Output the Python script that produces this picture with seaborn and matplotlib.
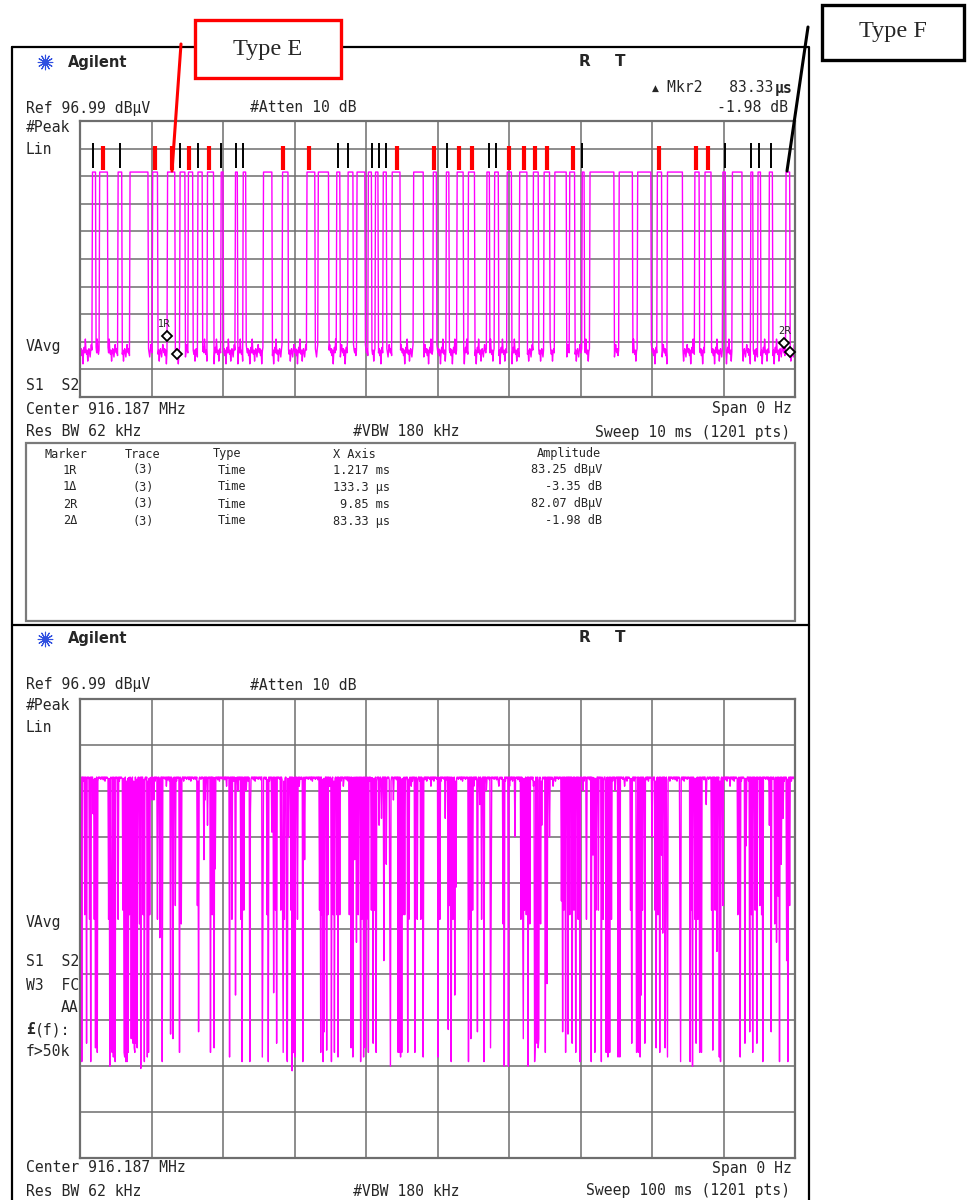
import numpy as np
import pandas as pd
import matplotlib
matplotlib.use("Agg")
import matplotlib.pyplot as plt
import seaborn as sns
from matplotlib.patches import Rectangle

# ---------------- data ----------------
# top sweep (10 ms, 1201 pts): pulse start / end times in ms, levels in graticule divisions
pulse_start = [0.17, 0.27, 0.53, 0.70, 1.01, 1.22, 1.40, 1.51, 1.65, 1.78, 1.97, 2.17, 2.28, 2.56, 2.83,
               3.17, 3.33, 3.59, 3.75, 3.87, 4.03, 4.13, 4.24, 4.36, 4.66, 4.94, 5.12, 5.27, 5.43, 5.69,
               5.80, 5.97, 6.15, 6.34, 6.49, 6.64, 6.85, 7.02, 7.13, 7.54, 7.80, 8.07, 8.21, 8.60, 8.74,
               8.99, 9.12, 9.38, 9.48, 9.64, 9.87]
pulse_end = [0.22, 0.39, 0.59, 0.95, 1.09, 1.33, 1.47, 1.58, 1.71, 1.87, 2.00, 2.20, 2.32, 2.69, 2.91,
             3.29, 3.48, 3.64, 3.82, 3.99, 4.08, 4.17, 4.29, 4.48, 4.80, 4.99, 5.16, 5.36, 5.52, 5.73,
             5.85, 6.04, 6.25, 6.41, 6.57, 6.80, 6.92, 7.05, 7.47, 7.73, 7.99, 8.14, 8.43, 8.66, 8.83,
             9.03, 9.26, 9.41, 9.52, 9.69, 9.93]
high_level_top = 8.15
low_ripple_top = [1.7, 1.6, 1.75, 1.5, 1.7, 1.2, 1.65, 1.8, 1.6, 2.1, 1.7, 1.55, 1.7, 1.3, 1.65, 1.75,
                  1.6, 1.45, 1.7, 1.9]

# red (type E) and black marks above the pulses, ms
red_marks = [0.32, 1.05, 1.28, 1.52, 1.80, 2.84, 3.20, 4.43, 4.95, 5.30, 5.48, 6.00, 6.21, 6.36,
             6.53, 6.89, 8.10, 8.62, 8.78]
black_marks = [0.18, 0.56, 1.40, 1.65, 1.97, 2.18, 2.28, 3.61, 3.75, 4.08, 4.18, 4.28, 5.13, 5.72,
               5.82, 7.02, 9.02, 9.39, 9.50, 9.66]

# markers on the top sweep: (label, time ms, level div)
mk_labels = ["1R", "1Δ", "2R", "2Δ"]
mk_time = [1.217, 1.350, 9.85, 9.933]
mk_level = [2.2, 1.56, 1.96, 1.63]

# bottom sweep (100 ms, 1201 pts): dropout times (ms) and depth (div)
dip_time = [0.09, 0.28, 0.65, 0.89, 1.35, 1.49, 1.82, 1.96, 2.14, 2.42, 4.0, 4.15, 4.38, 4.52, 4.66,
            4.85, 4.94, 5.31, 6.01, 6.15, 6.29, 6.43, 6.57, 6.71, 6.95, 7.18, 7.41, 7.55, 7.69, 7.83,
            8.02, 8.34, 8.48, 8.81, 9.04, 9.42, 9.6, 9.79, 10.1, 10.3, 10.82, 11.14, 11.47, 12.07,
            12.68, 13.01, 13.33, 13.94, 14.17, 16.41, 16.6, 17.34, 17.53, 17.81, 18.28, 18.46, 18.74,
            18.93, 20.47, 20.93, 21.26, 21.72, 22.1, 22.47, 22.66, 22.94, 23.26, 23.73, 23.87,
            25.46, 25.6, 26.2, 26.3, 26.8, 27.1, 27.3, 27.5, 28.1, 28.3, 28.4, 28.6, 28.9, 29.0, 29.2,
            29.5, 29.7, 29.8, 29.9, 30.1, 30.4, 30.7, 31.2, 31.4, 33.5, 33.7, 33.85, 34.0, 34.2, 34.5,
            34.7, 34.9, 35.2, 35.4, 35.6, 35.9, 36.1, 36.3, 36.8, 37.7, 37.95, 38.2, 38.4, 38.65, 38.9,
            39.1, 39.26, 39.45, 39.7, 39.9, 40.05, 40.3, 40.75, 41.0, 41.2, 41.45, 41.8, 42.15, 42.5,
            42.85, 43.3, 43.45, 43.8, 44.5, 44.7, 44.85, 45.0, 45.2, 45.4, 45.8, 46.0, 46.35, 46.8,
            47.2, 47.7, 48.0, 49.1, 50.1,
            50.3, 51.1, 51.5, 51.7, 51.9, 52.2, 52.4, 52.6, 54.3, 54.5, 54.7, 54.9, 55.1, 55.6, 55.9,
            56.2, 56.5, 56.8, 57.4, 57.5, 58.6, 59.2, 59.3, 59.9, 60.1, 60.8, 61.7, 61.9, 62.0, 62.2,
            62.4, 62.7, 62.9, 63.4, 63.6, 63.7, 63.9, 64.1, 64.2, 64.4, 64.6, 65.1, 65.3, 65.7, 66.2,
            67.3, 67.5, 67.7, 67.9, 68.25, 68.5, 68.8, 69.1, 69.3, 69.65, 69.9, 70.35, 70.8, 71.5,
            71.75, 71.98, 72.2, 72.5, 72.9, 73.15, 73.6, 73.85, 74.1, 74.3, 74.8, 75.25,
            75.5, 76.2, 77.0, 77.2, 77.8, 77.9, 78.1, 78.3, 78.5, 78.7, 78.97, 80.04, 80.4, 80.6, 80.8,
            81.1, 81.3, 81.5, 81.8, 82.1, 82.2, 83.9, 84.0, 85.3, 85.5, 85.7, 86.0, 86.2, 86.4, 86.7,
            86.9, 87.6, 88.3, 88.5, 88.8, 89.1, 89.4, 89.6, 89.9, 90.9, 92.0, 92.3, 93.0, 93.2, 93.7,
            93.9, 94.1, 94.4, 94.7, 95.1, 95.3, 95.5, 96.45, 96.7, 97.15, 97.4, 97.7, 97.85, 98.1,
            98.3, 98.8, 99.0, 99.25]
dip_level = [2.2, 2.1, 5.3, 2.5, 5.2, 2.1, 7.5, 5.2, 2.4, 2.3, 5.2, 2.0, 2.4, 2.3, 2.2,
             2.3, 2.1, 5.2, 5.4, 2.3, 2.2, 2.1, 2.1, 2.3, 5.3, 2.6, 2.5, 2.4, 2.3, 2.5,
             2.4, 5.1, 1.95, 5.3, 2.1, 2.2, 2.3, 5.3, 7.8, 7.8, 5.2, 4.8, 2.1, 8.1,
             2.7, 2.6, 5.5, 2.3, 5.1, 5.5, 2.75, 6.5, 7.8, 7.25, 2.3, 5.3, 2.4,
             6.3, 8.1, 2.2, 5.2, 3.55, 8.0, 5.2, 2.1, 5.4, 8.0, 2.1, 7.5,
             2.2, 5.2, 5.3, 2.1, 7.1, 3.6, 5.4, 2.5, 5.4, 5.3, 2.3, 5.2, 2.2, 2.1, 7.0,
             5.4, 1.9, 2.3, 2.3, 2.2, 5.2, 8.1, 2.1, 6.5, 5.4, 2.3, 5.3, 2.1, 2.75, 2.35,
             5.3, 8.1, 2.1, 5.3, 2.3, 5.3, 2.2, 5.3, 8.1, 5.3, 2.4, 2.2, 6.5, 4.7, 5.3,
             8.1, 2.1, 5.2, 2.2, 2.4, 5.2, 2.3, 5.4, 2.5, 5.4, 2.3, 7.25, 7.4, 4.3,
             6.4, 5.1, 2.0, 7.8, 2.3, 2.3, 2.2, 2.3, 5.3, 5.3, 2.3, 5.2, 8.1, 2.3,
             5.2, 5.2, 2.2, 8.1, 2.2,
             5.2, 7.4, 2.8, 5.5, 2.1, 5.2, 3.55, 5.9, 2.1, 5.2, 2.6, 5.4, 8.1, 2.75, 7.7,
             5.2, 2.1, 8.0, 2.4, 5.4, 8.1, 5.1, 2.0, 2.0, 8.1, 7.0, 5.2, 5.3, 2.6, 5.4,
             5.3, 2.0, 5.1, 8.1, 2.1, 2.5, 2.5, 2.4, 2.6, 5.1, 7.25, 2.3, 3.8, 7.0, 8.1,
             5.6, 2.75, 5.4, 2.3, 2.7, 5.3, 2.5, 5.4, 2.3, 5.2, 2.1, 8.0, 5.2, 2.1,
             6.6, 2.3, 5.4, 5.4, 2.1, 5.2, 2.3, 2.2, 2.3, 5.2, 8.0, 2.2,
             2.2, 8.1, 5.4, 2.5, 2.3, 5.4, 2.3, 2.2, 3.55, 5.4, 2.5, 7.0, 5.4, 2.4, 5.3,
             2.3, 6.6, 4.9, 2.4, 5.2, 2.2, 5.2, 2.1, 2.1, 5.4, 2.0, 5.2, 2.5, 5.2, 2.3,
             2.3, 7.7, 5.4, 2.35, 5.4, 4.5, 2.2, 2.1, 5.5, 8.1, 5.3, 2.2, 2.5, 6.8, 2.75,
             5.3, 2.3, 5.4, 2.5, 5.5, 5.3, 2.1, 7.25, 2.75, 5.1, 4.7, 5.7, 2.1, 6.4,
             7.4, 4.3, 2.1, 5.5]
high_ripple_bottom = [8.30, 8.27, 8.30, 8.24, 8.30, 8.30, 8.21, 8.30, 8.27, 8.30, 8.29, 8.25]

table_marker = ["1R", "1Δ", "2R", "2Δ"]
table_trace = ["(3)", "(3)", "(3)", "(3)"]
table_type = ["Time", "Time", "Time", "Time"]
table_x = ["1.217 ms", "133.3 µs", "9.85 ms", "83.33 µs"]
table_amp = ["83.25 dBµV", "-3.35 dB", "82.07 dBµV", "-1.98 dB"]

# ---------------- build traces ----------------
n_pts = 1201
t_top = np.linspace(0, 10, n_pts)
y_top = np.array([low_ripple_top[i % len(low_ripple_top)] for i in range(n_pts)])
for s, e in zip(pulse_start, pulse_end):
    y_top[(t_top >= s) & (t_top <= e)] = high_level_top
top_df = pd.DataFrame({"t": t_top, "v": y_top})

t_bot = np.linspace(0, 100, n_pts)
y_bot = np.array([high_ripple_bottom[i % len(high_ripple_bottom)] for i in range(n_pts)])
for tt, lv in zip(dip_time, dip_level):
    y_bot[int(round(tt * 12))] = lv
bot_df = pd.DataFrame({"t": t_bot, "v": y_bot})

# ---------------- figure ----------------
sns.set_style("white")
plt.rcParams['font.family'] = ['DejaVu Sans Mono', 'DejaVu Sans']
W, H = 969, 1200
fig = plt.figure(figsize=(W / 100, H / 100), dpi=100)
fig.patch.set_facecolor("white")

GRID = "#6e6e6e"
MAG = "#ff00ff"


def graticule(x0, y0, x1, y1, xmax):
    ax = fig.add_axes([x0 / W, 1 - y1 / H, (x1 - x0) / W, (y1 - y0) / H])
    ax.set_facecolor("none")
    ax.set_xlim(0, xmax)
    ax.set_ylim(0, 10)
    ax.set_xticks(np.linspace(0, xmax, 11))
    ax.set_yticks(range(11))
    ax.grid(True, color=GRID, lw=1.1)
    ax.tick_params(length=0, labelbottom=False, labelleft=False)
    for sp in ax.spines.values():
        sp.set_color(GRID)
        sp.set_linewidth(1.6)
    return ax


ax_top = graticule(80, 121, 795, 397, 10)
sns.lineplot(data=top_df, x="t", y="v", ax=ax_top, color=MAG, lw=1.0, estimator=None, sort=False)
ax_top.set_xlabel(""); ax_top.set_ylabel("")
ax_top.vlines(red_marks, 8.22, 9.08, colors="#ff0000", lw=3.0, zorder=4)
ax_top.vlines(black_marks, 8.28, 9.2, colors="black", lw=1.4, zorder=4)
for lab, mt, ml in zip(mk_labels, mk_time, mk_level):
    ax_top.plot(mt, ml, marker="D", ms=5.5, mfc="white", mec="black", mew=1.3, zorder=5, clip_on=False)
ax_top.text(1.18, 2.65, "1R", fontsize=7, ha="center", va="center", family="DejaVu Sans")
ax_top.text(9.86, 2.4, "2R", fontsize=7, ha="center", va="center", family="DejaVu Sans")

ax_bot = graticule(80, 699, 795, 1158, 100)
sns.lineplot(data=bot_df, x="t", y="v", ax=ax_bot, color=MAG, lw=1.0, estimator=None, sort=False)
ax_bot.set_xlabel(""); ax_bot.set_ylabel("")

# ---------------- overlay (frames + texts) ----------------
ov = fig.add_axes([0, 0, 1, 1])
ov.set_xlim(0, W)
ov.set_ylim(H, 0)
ov.axis("off")
ov.set_zorder(10)
ov.patch.set_alpha(0)

# frames
ov.plot([12, 809, 809], [47, 47, 1200], color="black", lw=1.6)
ov.plot([12, 12], [47, 1200], color="black", lw=1.6)
ov.plot([12, 809], [625, 625], color="black", lw=1.6)
ov.add_patch(Rectangle((26, 443), 769, 178, fill=False, ec="#7a7a7a", lw=1.6))

# annotation boxes
ov.add_patch(Rectangle((195, 20), 146, 58, fc="white", ec="#ff0000", lw=2.4, zorder=5))
ov.text(268, 49, "Type E", family="Liberation Serif", fontsize=17.5, ha="center", va="center", zorder=6)
ov.add_patch(Rectangle((822, 5), 142, 55, fc="white", ec="black", lw=2.4, zorder=5))
ov.text(893, 32, "Type F", family="Liberation Serif", fontsize=17.5, ha="center", va="center", zorder=6)
ov.plot([181, 172], [44, 171], color="#ff0000", lw=2.2)
ov.plot([808, 787], [27, 171], color="black", lw=2.2)

FS = 10.6


def txt(x, y, s, ha="left", fs=FS, **kw):
    ov.text(x, y, s, ha=ha, va="center", fontsize=fs, **kw)


for y0 in (0, 577):
    ov.scatter([45], [62 + y0], marker=(12, 2, 0), s=110, color="#3050e0", lw=0.8)
    txt(68, 62 + y0, "Agilent", fs=10.5, family="DejaVu Sans", weight="bold")
    txt(585, 61 + y0, "R", fs=11, family="DejaVu Sans", weight="bold", ha="center")
    txt(620, 61 + y0, "T", fs=11, family="DejaVu Sans", weight="bold", ha="center")
    txt(26, 108 + y0, "Ref 96.99 dBµV")
    txt(250, 108 + y0, "#Atten 10 dB")
    txt(26, 128 + y0, "#Peak")
    txt(26, 150 + y0, "Lin")

# top panel
txt(655, 88, "▲", fs=6.5, family="DejaVu Sans", ha="center")
txt(667, 88, "Mkr2   83.33")
txt(793, 88, "µs", ha="right", weight="bold")
txt(788, 108, "-1.98 dB", ha="right")
txt(26, 346, "VAvg")
txt(26, 386, "S1  S2")
txt(26, 409, "Center 916.187 MHz")
txt(792, 409, "Span 0 Hz", ha="right")
txt(26, 432, "Res BW 62 kHz")
txt(353, 432, "#VBW 180 kHz")
txt(790, 432, "Sweep 10 ms (1201 pts)", ha="right")

TF = 8.6
txt(45, 454, "Marker", fs=TF)
txt(125, 454, "Trace", fs=TF)
txt(213, 454, "Type", fs=TF)
txt(333, 454, "X Axis", fs=TF)
txt(537, 454, "Amplitude", fs=TF)
for i, yy in enumerate([470, 487, 504, 521]):
    txt(70, yy, table_marker[i], fs=TF, ha="center")
    txt(143, yy, table_trace[i], fs=TF, ha="center")
    txt(232, yy, table_type[i], fs=TF, ha="center")
    txt(333 if i != 2 else 340, yy, table_x[i], fs=TF)
    txt(602, yy, table_amp[i], fs=TF, ha="right")

# bottom panel
txt(26, 922, "VAvg")
txt(26, 962, "S1  S2")
txt(26, 985, "W3  FC")
txt(78, 1007, "AA", ha="right")
txt(26, 1030, "£", weight="bold")
txt(35, 1030, "(f):")
txt(26, 1051, "f>50k")
txt(26, 1168, "Center 916.187 MHz")
txt(792, 1168, "Span 0 Hz", ha="right")
txt(26, 1191, "Res BW 62 kHz")
txt(353, 1191, "#VBW 180 kHz")
txt(790, 1191, "Sweep 100 ms (1201 pts)", ha="right")

fig.savefig("out.png", dpi=100, facecolor="white")
